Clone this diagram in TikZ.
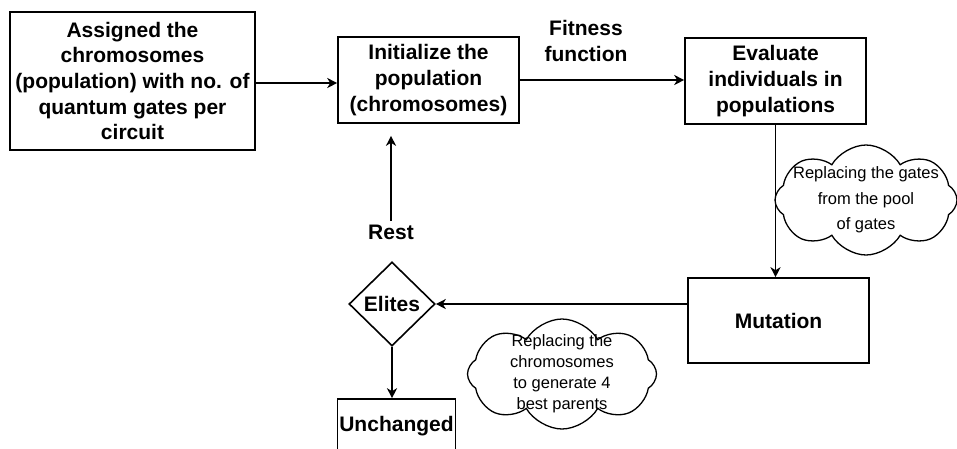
\documentclass[tikz,border=0pt]{standalone}
\usepackage{fontspec}
\setmainfont{Liberation Sans}
\usetikzlibrary{positioning,arrows.meta,shapes.geometric,shapes.symbols}

\begin{document}
\begin{tikzpicture}[x=1pt, y=-1pt,
  every node/.style={align=center, font=\fontsize{21}{25.7}\selectfont\bfseries},
  box/.style={draw, line width=1.6pt, inner sep=2pt},
  decide/.style={draw, diamond, aspect=1, line width=1.6pt, inner sep=0pt,
    minimum width=86pt, minimum height=84pt},
  note/.style={draw, cloud, cloud puffs=8, cloud puff arc=120, line width=1.3pt},
  notetext/.style={font=\fontsize{16.5}{25.5}\selectfont},
  arr/.style={-{Stealth[length=10pt,width=10pt,inset=3pt]}, line width=1.6pt}]

  \useasboundingbox (0,0) rectangle (957,448);

  \node[box, minimum width=245pt, minimum height=138pt] (assign) at (132.5,81)
    {Assigned the\\chromosomes\\(population) with no. of\\quantum gates per\\circuit};
  \node[box, minimum width=181pt, minimum height=86pt] (init) at (428.5,80)
    {Initialize the\\population\\(chromosomes)};
  \node[box, minimum width=181pt, minimum height=86pt] (eval) at (775.5,81)
    {Evaluate\\individuals in\\populations};
  \node (fitness) at (586,41) {Fitness\\function};

  \node[box, minimum width=181pt, minimum height=85pt] (mut) at (778.5,320.5) {Mutation};
  \node[decide] (elites) at (392,304) {Elites};
  \node[box, minimum width=117pt, minimum height=54pt] (unch) at (396.5,426) {Unchanged};
  \node (rest) at (391,232) {Rest};

  \node[note, minimum width=182pt, minimum height=110pt,
    label={[notetext]center:Replacing the gates\\from the pool\\of gates}] (cloudA) at (866,200) {};
  \node[note, minimum width=189pt, minimum height=110pt,
    label={[notetext, font=\fontsize{16.5}{21}\selectfont]center:Replacing the\\chromosomes\\to generate 4\\best parents}] (cloudB) at (562,374) {};

  \draw[arr] (assign.east |- 0,83) -- (init.west |- 0,83);
  \draw[arr] (init.east) -- (init.east -| eval.west);
  \draw[arr] (eval.south) -- (eval.south |- mut.north);
  \draw[arr] (elites.east -| mut.west) -- (elites.east);
  \draw[arr] (elites.south) -- (elites.south |- unch.north);
  \draw[arr, shorten >=12pt] (rest.north) -- (rest.north |- init.south);
\end{tikzpicture}
\end{document}
